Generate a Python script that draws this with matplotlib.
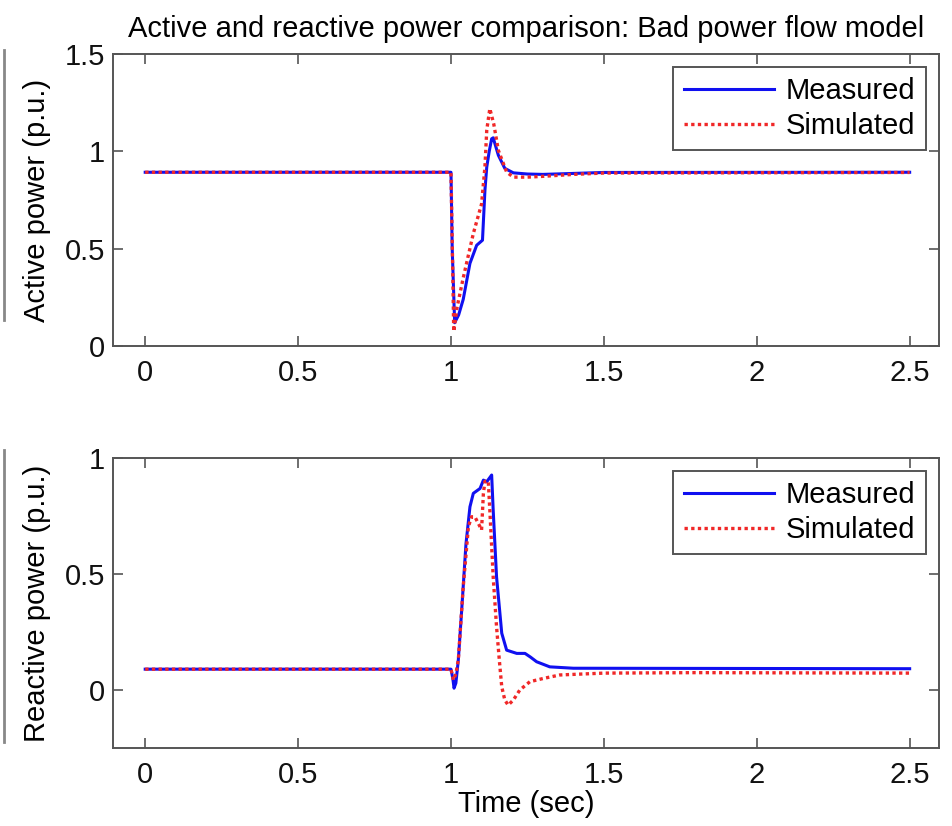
import matplotlib
matplotlib.use("Agg")
import matplotlib.pyplot as plt
from matplotlib.lines import Line2D

plt.rcParams['font.family'] = ['Liberation Sans', 'DejaVu Sans']

# ---- data ----
t_p_meas = [0.0, 1.0, 1.004, 1.012, 1.025, 1.04, 1.062, 1.084, 1.103, 1.111, 1.117,
            1.125, 1.133, 1.138, 1.155, 1.176, 1.204, 1.25, 1.3, 1.4, 1.5, 2.5]
p_meas = [0.893, 0.893, 0.5, 0.12, 0.16, 0.24, 0.425, 0.518, 0.544, 0.80, 0.92,
          1.00, 1.065, 1.07, 0.98, 0.913, 0.89, 0.884, 0.882, 0.887, 0.892, 0.893]

t_p_sim = [0.0, 1.0, 1.005, 1.009, 1.02, 1.04, 1.073, 1.10, 1.111, 1.117, 1.127,
           1.14, 1.155, 1.182, 1.204, 1.25, 1.3, 1.4, 1.5, 2.5]
p_sim = [0.893, 0.893, 0.45, 0.075, 0.2, 0.35, 0.578, 0.73, 0.92, 1.11, 1.22,
         1.14, 1.005, 0.894, 0.868, 0.868, 0.872, 0.882, 0.889, 0.892]

t_q_meas = [0.0, 1.0, 1.006, 1.01, 1.016, 1.024, 1.035, 1.049, 1.062, 1.073, 1.095,
            1.106, 1.117, 1.133, 1.138, 1.149, 1.166, 1.182, 1.215, 1.242, 1.26,
            1.28, 1.323, 1.4, 2.5]
q_meas = [0.09, 0.09, 0.05, 0.008, 0.03, 0.13, 0.345, 0.63, 0.79, 0.848, 0.869,
          0.905, 0.898, 0.927, 0.776, 0.488, 0.245, 0.172, 0.158, 0.158, 0.142,
          0.122, 0.10, 0.094, 0.092]

t_q_sim = [0.0, 1.0, 1.008, 1.016, 1.024, 1.04, 1.057, 1.067, 1.078, 1.095, 1.10,
           1.106, 1.111, 1.122, 1.127, 1.138, 1.149, 1.158, 1.166, 1.176, 1.187,
           1.204, 1.225, 1.258, 1.302, 1.356, 1.5, 1.8, 2.5]
q_sim = [0.09, 0.09, 0.043, 0.07, 0.13, 0.445, 0.704, 0.747, 0.747, 0.704, 0.69,
         0.848, 0.90, 0.90, 0.776, 0.488, 0.273, 0.13, 0.014, -0.043, -0.065,
         -0.043, 0.0, 0.036, 0.05, 0.065, 0.073, 0.075, 0.073]

title = "Active and reactive power comparison: Bad power flow model"
xticks = [0, 0.5, 1, 1.5, 2, 2.5]
xticklabels = ["0", "0.5", "1", "1.5", "2", "2.5"]
yticks_p = [0, 0.5, 1, 1.5]
yticklabels_p = ["0", "0.5", "1", "1.5"]
yticks_q = [0, 0.5, 1]
yticklabels_q = ["0", "0.5", "1"]

BLUE = '#1010f0'
RED = '#f02828'
SPINE = '#555555'
FS = 21

fig = plt.figure(figsize=(9.53, 8.26), dpi=100)
ax1 = fig.add_axes([0.119, 0.581, 0.866, 0.3535])
ax2 = fig.add_axes([0.119, 0.0944, 0.866, 0.351])

def style(ax):
    for s in ax.spines.values():
        s.set_color(SPINE)
        s.set_linewidth(1.4)
    ax.tick_params(direction='in', length=7, width=1.2, color=SPINE,
                   top=True, right=True, labelsize=FS, labelcolor='#111111')
    ax.tick_params(axis='x', pad=9)
    ax.tick_params(axis='y', pad=6)
    ax.set_xlim(-0.104, 2.595)
    ax.set_xticks(xticks)
    ax.set_xticklabels(xticklabels)

ax1.plot(t_p_meas, p_meas, color=BLUE, lw=2.2, label='Measured')
ax1.plot(t_p_sim, p_sim, color=RED, lw=2.4, ls=(0, (1, 1)), label='Simulated')
style(ax1)
ax1.set_ylim(0, 1.5)
ax1.set_yticks(yticks_p)
ax1.set_yticklabels(yticklabels_p)
ax1.set_ylabel("Active power (p.u.)", fontsize=FS, labelpad=10)
ax1.set_title(title, fontsize=FS, pad=12)

ax2.plot(t_q_meas, q_meas, color=BLUE, lw=2.2, label='Measured')
ax2.plot(t_q_sim, q_sim, color=RED, lw=2.4, ls=(0, (1, 1)), label='Simulated')
style(ax2)
ax2.set_ylim(-0.25, 1.0)
ax2.set_yticks(yticks_q)
ax2.set_yticklabels(yticklabels_q)
ax2.set_ylabel("Reactive power (p.u.)", fontsize=FS, labelpad=10)
ax2.set_xlabel("Time (sec)", fontsize=FS, labelpad=1)

for ax in (ax1, ax2):
    leg = ax.legend(loc='upper right', fontsize=FS, fancybox=False, framealpha=1,
                    edgecolor=SPINE, handlelength=3.1, handletextpad=0.4,
                    borderpad=0.35, labelspacing=0.23, borderaxespad=0.45)
    leg.get_frame().set_linewidth(1.4)

# gray bars at the left edge (cropping artefacts of the original)
fig.add_artist(Line2D([0.004, 0.004], [1 - 50 / 826, 1 - 320 / 826],
                      transform=fig.transFigure, color='#888888', lw=2))
fig.add_artist(Line2D([0.004, 0.004], [1 - 450 / 826, 1 - 742 / 826],
                      transform=fig.transFigure, color='#888888', lw=2))

fig.savefig("out.png", dpi=100)
